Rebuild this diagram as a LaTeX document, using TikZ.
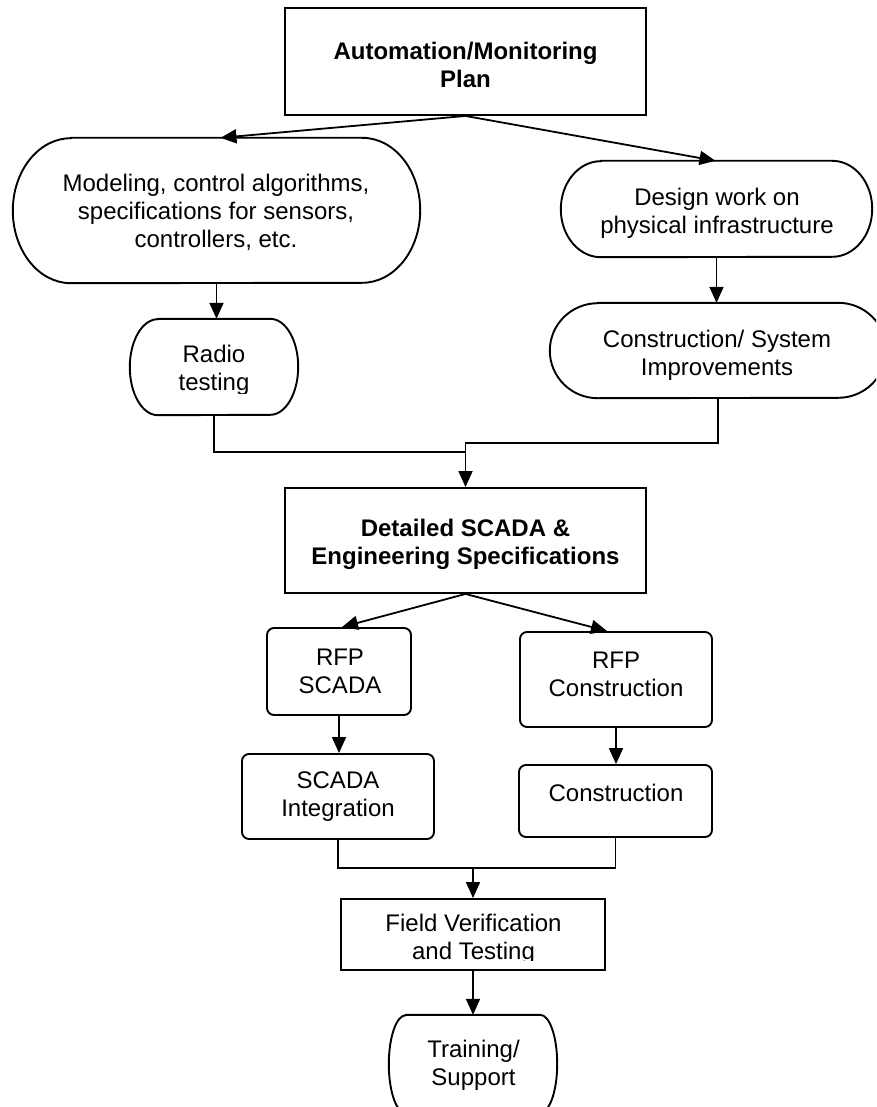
\documentclass[tikz,border=0pt]{standalone}
\usepackage{fontspec}
\setmainfont{Liberation Sans}
\usetikzlibrary{arrows.meta}
\tikzset{
  shp/.style={draw, line width=1.9pt},
  boxn/.style={shp, inner sep=0pt},
  rboxn/.style={shp, rounded corners=7pt, inner sep=0pt},
  stadn/.style={inner sep=0pt},
  txt/.style={align=center, inner sep=0pt, font=\fontsize{24}{28}\selectfont},
  btxt/.style={align=center, inner sep=0pt, font=\fontsize{24}{28}\selectfont\bfseries},
  conn/.style={line width=1.8pt},
  arr/.style={conn, -{Triangle[length=16pt,width=14pt]}},
}
% name, horizontal extent of the rounded end, half height
\newcommand\stadpath[3]{%
  \draw[shp] ([xshift=#2pt]#1.north west) -- ([xshift=-#2pt]#1.north east)
    arc[start angle=90, end angle=-90, x radius=#2pt, y radius=#3pt]
    -- ([xshift=#2pt]#1.south west)
    arc[start angle=270, end angle=90, x radius=#2pt, y radius=#3pt] -- cycle;}
\begin{document}
\begin{tikzpicture}[x=1pt,y=-1pt]
\useasboundingbox (0,0) rectangle (876,1107);
\clip (0,0) rectangle (876,1107);
\fill[white] (0,0) rectangle (876,1107);

% ---- shapes ----
\node[boxn, minimum width=361pt, minimum height=107pt] (top) at (465.5,61.5) {};
\node[stadn, minimum width=407pt, minimum height=145pt] (model) at (216.5,210.5) {};
\stadpath{model}{58}{72.5}
\node[stadn, minimum width=311pt, minimum height=96pt] (design) at (716.5,209) {};
\stadpath{design}{40}{48}
\node[stadn, minimum width=168pt, minimum height=96pt] (radio) at (214,367) {};
\stadpath{radio}{28}{48}
\node[stadn, minimum width=336pt, minimum height=95pt] (csys) at (718,350.5) {};
\stadpath{csys}{48}{47.5}
\node[boxn, minimum width=361pt, minimum height=105pt] (detailed) at (465.5,540.5) {};
\node[rboxn, minimum width=144pt, minimum height=87pt] (rfps) at (339,671.5) {};
\node[rboxn, minimum width=192pt, minimum height=95pt] (rfpc) at (616,679.5) {};
\node[rboxn, minimum width=192pt, minimum height=85pt] (scint) at (338,796.5) {};
\node[rboxn, minimum width=193pt, minimum height=72pt] (cons) at (615.5,801) {};
\node[boxn, minimum width=264pt, minimum height=71pt] (field) at (473,934.5) {};
\node[stadn, minimum width=168pt, minimum height=98pt] (train) at (473,1064) {};
\stadpath{train}{17}{49}

% ---- texts ----
\node[btxt] (ttop) at (465.5,65) {Automation/Monitoring\\Plan};
\node[txt] (tmodel) at (216,212) {Modeling, control algorithms,\\specifications for sensors,\\controllers, etc.};
\node[txt] (tdesign) at (717,213) {Design work on\\physical infrastructure};
\begin{scope}
  \clip (130,319) rectangle (298,393);
  \node[txt] (tradio) at (214,370) {Radio\\testing};
\end{scope}
\node[txt] (tcsys) at (717,355) {Construction/ System\\Improvements};
\node[btxt] (tdet) at (465.5,544) {Detailed SCADA \&\\Engineering Specifications};
\node[txt] (trfps) at (340,671) {RFP\\SCADA};
\node[txt] (trfpc) at (616,674) {RFP\\Construction};
\node[txt] (tscint) at (338,797) {SCADA\\Integration};
\node[txt] (tcons) at (616,793) {Construction};
\begin{scope}
  \clip (341,899) rectangle (605,960);
  \node[txt] (tfield) at (473.5,939) {Field Verification\\and Testing};
\end{scope}
\node[txt] (ttrain) at (473.5,1065) {Training/\\Support};

% ---- connectors ----
\draw[arr] (top.south) -- ([xshift=4pt]model.north);
\draw[arr] (top.south) -- ([xshift=-1pt]design.north);
\draw[arr] (model.south) -- (model.south |- radio.north);
\draw[arr] (design.south) -- (design.south |- csys.north);
\coordinate (j1) at (465.5,452);
\coordinate (j2) at (465.5,443);
\draw[conn] (radio.south) |- (j1);
\draw[arr] (csys.south) |- (j2) -- (detailed.north);
\draw[arr] (detailed.south) -- ([xshift=3pt]rfps.north);
\draw[arr] (detailed.south) -- ([xshift=-9pt]rfpc.north);
\draw[arr] (rfps.south) -- (rfps.south |- scint.north);
\draw[arr] (rfpc.south) -- (rfpc.south |- cons.north);
\coordinate (j3) at (473,868);
\draw[conn] (scint.south) |- (j3);
\draw[conn] (cons.south) |- (j3);
\draw[arr] (j3) -- (field.north);
\draw[arr] (field.south) -- (train.north);
\end{tikzpicture}
\end{document}
